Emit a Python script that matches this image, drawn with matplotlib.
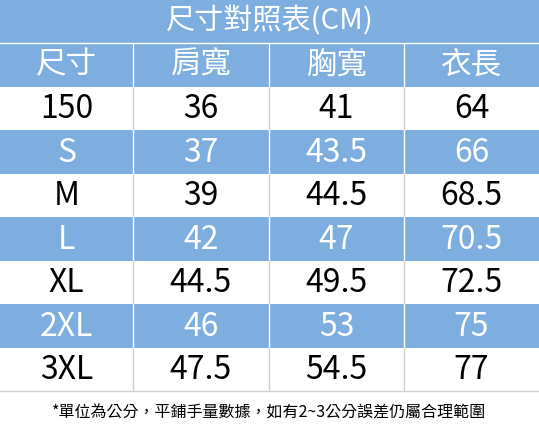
import matplotlib
matplotlib.use("Agg")
import matplotlib.pyplot as plt
from matplotlib.patches import Rectangle

plt.rcParams['font.family'] = ['Noto Sans CJK TC', 'DejaVu Sans']

title = "尺寸對照表(CM)"
headers = ["尺寸", "肩寬", "胸寬", "衣長"]
sizes = ["150", "S", "M", "L", "XL", "2XL", "3XL"]
shoulder = ["36", "37", "39", "42", "44.5", "46", "47.5"]
chest = ["41", "43.5", "44.5", "47", "49.5", "53", "54.5"]
length = ["64", "66", "68.5", "70.5", "72.5", "75", "77"]
note = "*單位為公分，平鋪手量數據，如有2~3公分誤差仍屬合理範圍"

blue = "#7eaee0"
W, H = 539, 442
fig = plt.figure(figsize=(W/100, H/100), dpi=100)
ax = fig.add_axes([0, 0, 1, 1])
ax.set_xlim(0, W); ax.set_ylim(H, 0); ax.axis('off')

col_edges = [0, 133, 269, 404, 539]
centers = [(col_edges[i]+col_edges[i+1])/2 for i in range(4)]
rh = 43.5
top0 = 43

ax.add_patch(Rectangle((0, 0), W, top0, color=blue, lw=0))
ax.text(W/2, top0/2, title, ha='center', va='center', color='white', fontsize=21, fontweight='medium')

ax.add_patch(Rectangle((0, top0), W, rh, color=blue, lw=0))
for c, h in zip(centers, headers):
    ax.text(c, top0+rh/2, h, ha='center', va='center', color='white', fontsize=22, fontweight='medium')
ax.plot([0, W], [top0, top0], color='white', lw=1)

cols = list(zip(sizes, shoulder, chest, length))
for i, row in enumerate(cols):
    y0 = top0 + rh*(i+1)
    isblue = i % 2 == 1
    if isblue:
        ax.add_patch(Rectangle((0, y0), W, rh, color=blue, lw=0))
    tc = 'white' if isblue else 'black'
    for c, v in zip(centers, row):
        ax.text(c, y0+rh/2+1, v, ha='center', va='center', color=tc, fontsize=23)
    for x in col_edges[1:-1]:
        ax.plot([x, x], [y0, y0+rh], color='white' if isblue else '#d0d0d0', lw=1)
for x in col_edges[1:-1]:
    ax.plot([x, x], [top0, top0+rh], color='white', lw=1)
ybot = top0 + rh*8
ax.plot([0, W], [ybot, ybot], color='#d0d0d0', lw=1)

ax.text(W/2, 413, note, ha='center', va='center', color='black', fontsize=11.5)
fig.savefig("out.png", dpi=100)
